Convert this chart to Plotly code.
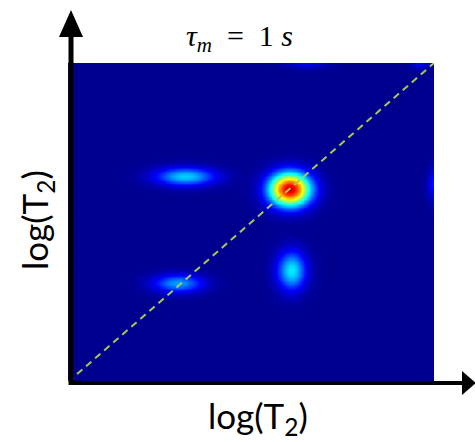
import numpy as np
import plotly.graph_objects as go

# Blob parameters (axis units 0..100 on both axes)
blob_x = [60.5, 32, 61, 30, 65, 100, 96]
blob_y = [60.5, 64.5, 35, 31, 101, 62, 100]
blob_amp = [0.92, 0.33, 0.36, 0.28, 0.16, 0.14, 0.12]
blob_sx = [4.0, 5.8, 2.8, 4.8, 4.0, 1.3, 1.5]
blob_sy = [3.7, 2.0, 4.3, 2.0, 1.5, 3.5, 1.2]

axis_range = [0, 100]
title_text = "<i>τ</i><sub><i>m</i></sub>  =  1 <i>s</i>"
xlabel = "log(T<sub>2</sub>)"
ylabel = "log(T<sub>2</sub>)"

gx = np.linspace(axis_range[0], axis_range[1], 241)
gy = np.linspace(axis_range[0], axis_range[1], 241)
X, Y = np.meshgrid(gx, gy)
Z = np.zeros_like(X)
for bx, by, a, sx, sy in zip(blob_x, blob_y, blob_amp, blob_sx, blob_sy):
    Z += a * np.exp(-0.5 * (((X - bx) / sx) ** 2 + ((Y - by) / sy) ** 2))

jet = [[0, 'rgb(0,0,143)'], [0.125, 'rgb(0,0,255)'], [0.375, 'rgb(0,255,255)'],
       [0.625, 'rgb(255,255,0)'], [0.875, 'rgb(255,0,0)'], [1, 'rgb(128,0,0)']]

fig = go.Figure()
fig.add_trace(go.Heatmap(x=gx, y=gy, z=Z, colorscale=jet, zmin=0, zmax=1,
                         zsmooth='best', showscale=False, hoverinfo='skip'))
fig.add_trace(go.Scatter(x=axis_range, y=axis_range, mode='lines',
                         line=dict(color='rgb(170,200,80)', width=2, dash='7px,5px'),
                         hoverinfo='skip', cliponaxis=False))

W, H = 475, 442
L, R, T, B = 68, 41, 63, 60
pw, ph = W - L - R, H - T - B

def px(x):
    return (x - L) / pw

def py(y):
    return (H - B - y) / ph

shapes = []
# y-axis arrow
shapes.append(dict(type='line', xref='paper', yref='paper', x0=px(71), x1=px(71),
                   y0=py(385), y1=py(34), line=dict(color='black', width=5), layer='above'))
shapes.append(dict(type='path', xref='paper', yref='paper',
                   path=f"M {px(59)} {py(37)} L {px(71)} {py(10)} L {px(83)} {py(37)} Z",
                   fillcolor='black', line=dict(color='black', width=0), layer='above'))
# x-axis arrow
shapes.append(dict(type='line', xref='paper', yref='paper', x0=px(69), x1=px(465),
                   y0=py(383), y1=py(383), line=dict(color='black', width=4), layer='above'))
shapes.append(dict(type='path', xref='paper', yref='paper',
                   path=f"M {px(462)} {py(371)} L {px(476)} {py(383)} L {px(462)} {py(395)} Z",
                   fillcolor='black', line=dict(color='black', width=0), layer='above'))

annotations = [
    dict(text=title_text, xref='paper', yref='paper', x=px(239), y=py(38),
         xanchor='center', yanchor='middle', showarrow=False,
         font=dict(family='Liberation Serif', size=30, color='black')),
    dict(text=xlabel, xref='paper', yref='paper', x=px(258), y=py(417),
         xanchor='center', yanchor='middle', showarrow=False,
         font=dict(family='Lato', size=35, color='black')),
    dict(text=ylabel, xref='paper', yref='paper', x=px(36), y=py(220),
         xanchor='center', yanchor='middle', showarrow=False, textangle=-90,
         font=dict(family='Lato', size=35, color='black')),
]

fig.update_layout(
    width=W, height=H, margin=dict(l=L, r=R, t=T, b=B),
    paper_bgcolor='white', plot_bgcolor='rgb(0,0,143)',
    showlegend=False, shapes=shapes, annotations=annotations,
    xaxis=dict(range=axis_range, showgrid=False, zeroline=False, showticklabels=False,
               ticks='', showline=False),
    yaxis=dict(range=axis_range, showgrid=False, zeroline=False, showticklabels=False,
               ticks='', showline=False),
)
fig.write_html("out.html", config={'displayModeBar': False},
               post_script="document.body.style.margin='0px';document.body.style.overflow='hidden';")
